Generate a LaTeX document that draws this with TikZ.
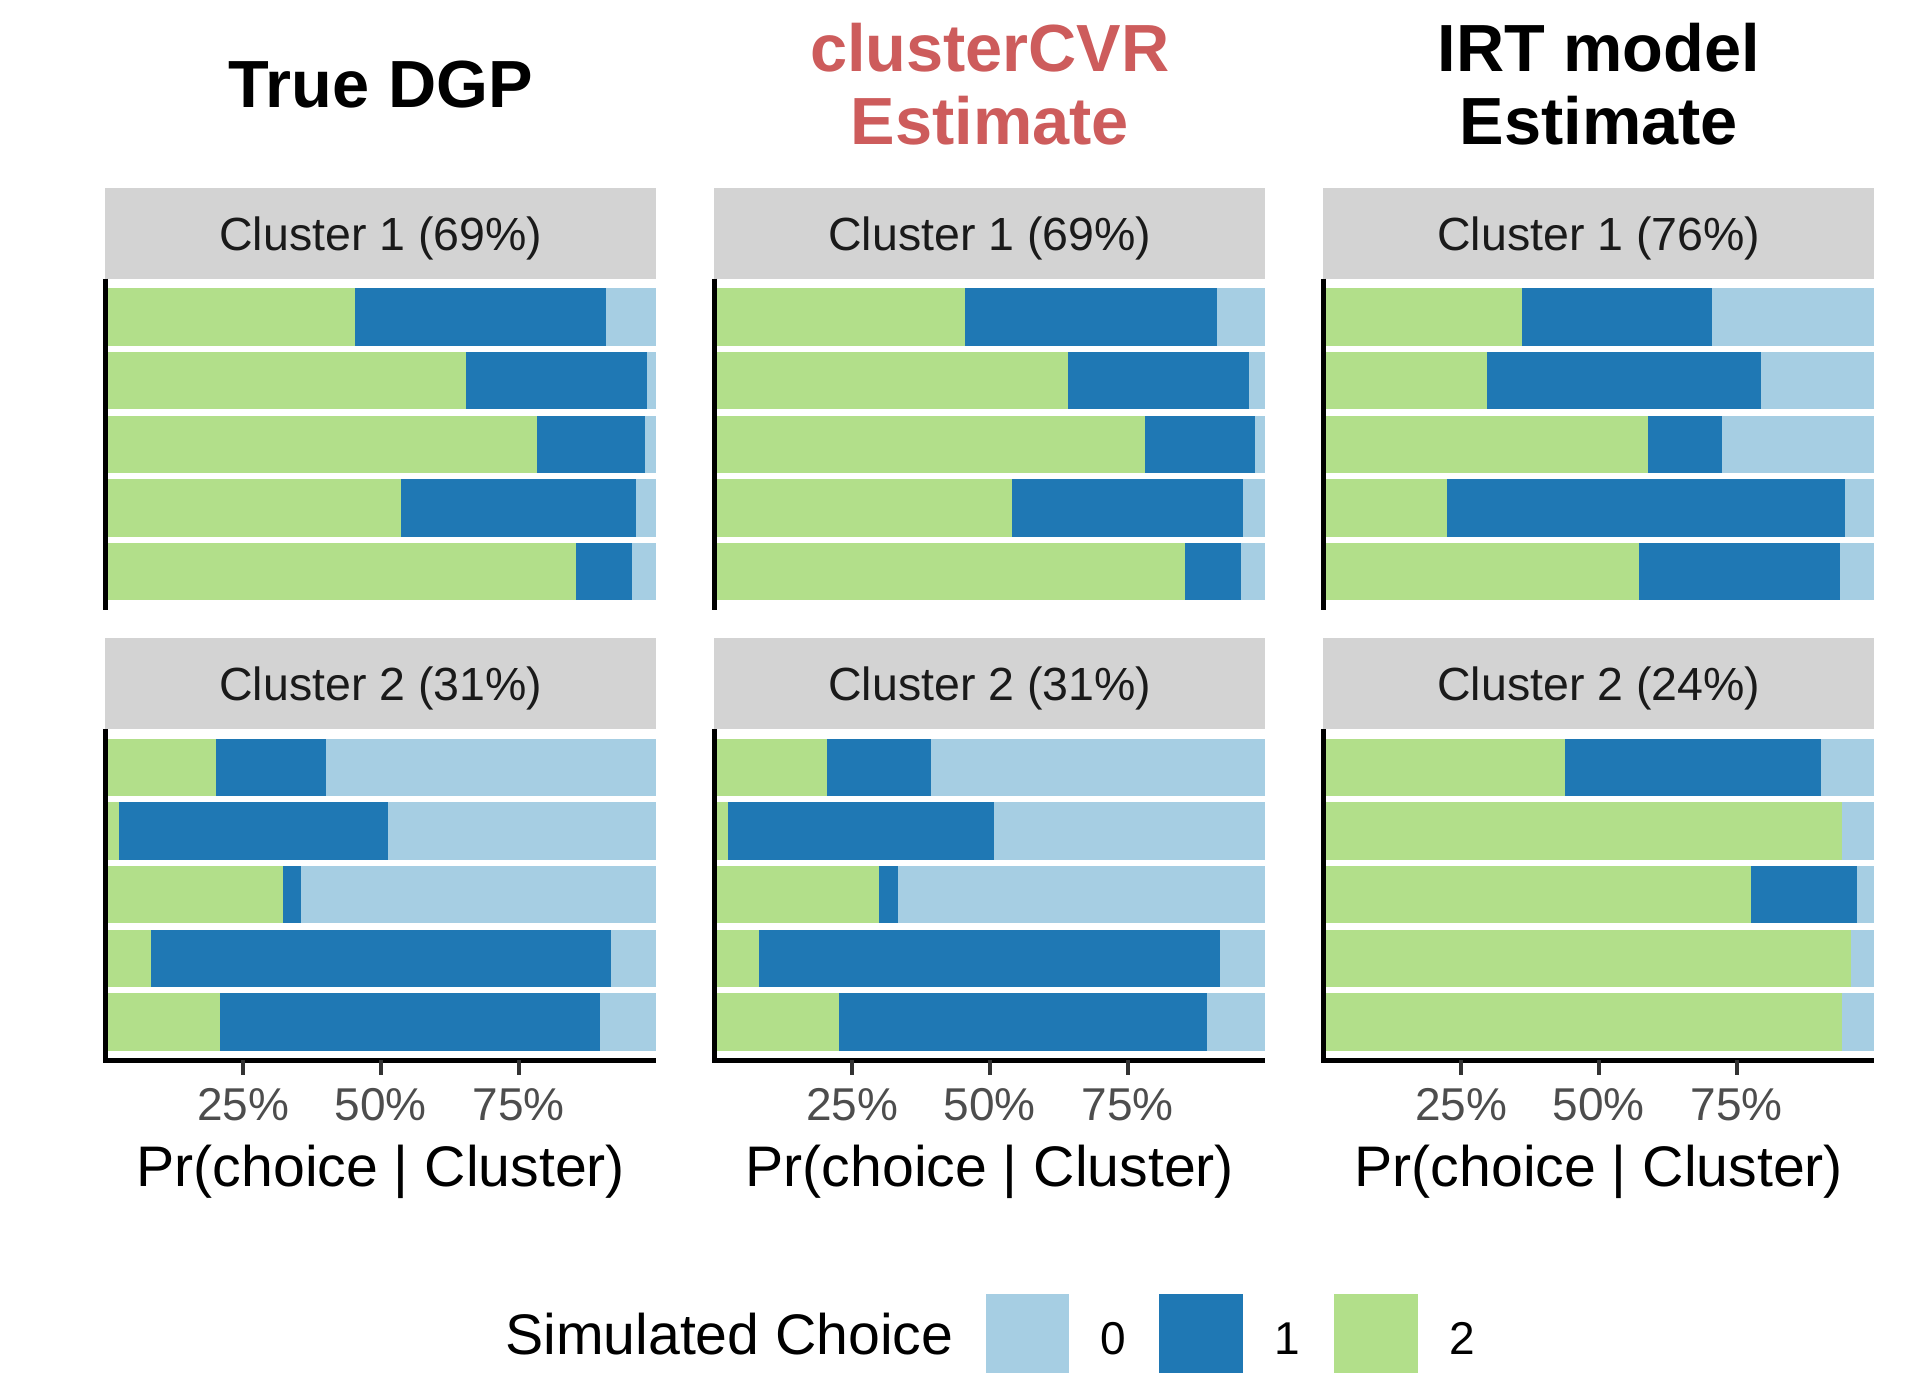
\documentclass[tikz,border=0pt]{standalone}
\usepackage{fontspec}
\setmainfont{Liberation Sans}
\definecolor{czero}{HTML}{A6CEE3}
\definecolor{cone}{HTML}{1F78B4}
\definecolor{ctwo}{HTML}{B2DF8A}
\definecolor{stripgray}{HTML}{D3D3D3}
\definecolor{titlered}{HTML}{CD5C5C}
\definecolor{ticktext}{HTML}{4D4D4D}
\definecolor{tickcol}{HTML}{333333}
\definecolor{striptextcol}{HTML}{1A1A1A}
\newcommand{\drawbarset}[3]{%
  \foreach \g/\b [count=\k] in {#3} {
    \pgfmathsetmacro{\yt}{#2+(\k-0.85)*63.71}
    \pgfmathsetmacro{\yb}{#2+(\k+0.05)*63.71}
    \fill[czero] (#1,\yt) rectangle ({#1+551},\yb);
    \fill[cone] (#1,\yt) rectangle ({#1+551*\b},\yb);
    \fill[ctwo] (#1,\yt) rectangle ({#1+551*\g},\yb);
  }}
\begin{document}
\begin{tikzpicture}[x=1pt,y=-1pt,
  striptext/.style={anchor=base,inner sep=0pt,text=striptextcol,font=\fontsize{46.5}{50}\selectfont},
  ticklab/.style={anchor=base,inner sep=0pt,text=ticktext,font=\fontsize{46}{50}\selectfont},
  axtitle/.style={anchor=base,inner sep=0pt,font=\fontsize{57.2}{62}\selectfont},
  coltitle/.style={anchor=base,inner sep=0pt,font=\bfseries\fontsize{66.7}{74}\selectfont},
  legtext/.style={anchor=base west,inner sep=0pt,font=\fontsize{57.2}{62}\selectfont},
  leglab/.style={anchor=base west,inner sep=0pt,font=\fontsize{46}{50}\selectfont},
  axisline/.style={line width=4.5pt,black,line join=miter},
  tickmark/.style={line width=4pt,tickcol}]
\useasboundingbox (0,0) rectangle (1932,1373);
\fill[white] (0,0) rectangle (1932,1373);

% column titles
\node[coltitle] (t1) at (380.8,107) {True DGP};
\node[coltitle,text=titlered] (t2a) at (989.8,71) {clusterCVR};
\node[coltitle,text=titlered] (t2b) at (989.8,144) {Estimate};
\node[coltitle] (t3a) at (1598.8,71) {IRT model};
\node[coltitle] (t3b) at (1598.8,144) {Estimate};

% strips
\foreach \x/\la/\lb/\n in {105.3/69/31/1, 714.3/69/31/2, 1323.3/76/24/3} {
  \fill[stripgray] (\x,188) rectangle ({\x+551},278.7);
  \fill[stripgray] (\x,638.3) rectangle ({\x+551},729);
  \node[striptext] (sa\n) at ({\x+275.5},250) {Cluster 1 (\la\%)};
  \node[striptext] (sb\n) at ({\x+275.5},700.3) {Cluster 2 (\lb\%)};
}

% bars
\drawbarset{105.3}{278.7}{0.454/0.909, 0.655/0.983, 0.784/0.980, 0.536/0.963, 0.855/0.956}
\drawbarset{105.3}{729}{0.201/0.401, 0.025/0.513, 0.322/0.355, 0.083/0.918, 0.208/0.898}
\drawbarset{714.3}{278.7}{0.455/0.913, 0.642/0.971, 0.782/0.982, 0.541/0.960, 0.855/0.956}
\drawbarset{714.3}{729}{0.205/0.394, 0.024/0.508, 0.299/0.333, 0.081/0.918, 0.226/0.894}
\drawbarset{1323.3}{278.7}{0.361/0.706, 0.297/0.794, 0.590/0.724, 0.225/0.946, 0.573/0.937}
\drawbarset{1323.3}{729}{0.438/0.904, 0.942/0.942, 0.777/0.968, 0.958/0.958, 0.942/0.942}

% axes, ticks, labels
\foreach \x/\n in {105.3/1, 714.3/2, 1323.3/3} {
  \draw[axisline] (\x,278.7) -- (\x,610);
  \draw[axisline] (\x,729) -- (\x,1060.3) -- ({\x+551},1060.3);
  \foreach \p/\t in {0.25/25, 0.5/50, 0.75/75} {
    \draw[tickmark] ({\x+551*\p},1060.3) -- ({\x+551*\p},1075);
    \node[ticklab] (tl\n-\t) at ({\x+551*\p},1120.7) {\t\%};
  }
  \node[axtitle] (ax\n) at ({\x+275.5},1186.7) {Pr(choice | Cluster)};
}

% legend
\node[legtext] (legt) at (505,1354) {Simulated Choice};
\fill[czero] (985.6,1293.5) rectangle (1069.4,1373);
\fill[cone] (1159.3,1293.5) rectangle (1243.1,1373);
\fill[ctwo] (1334.2,1293.5) rectangle (1418.1,1373);
\node[leglab] (l0) at (1100.5,1354) {0};
\node[leglab] (l1) at (1274,1354) {1};
\node[leglab] (l2) at (1449,1354) {2};
\end{tikzpicture}
\end{document}
